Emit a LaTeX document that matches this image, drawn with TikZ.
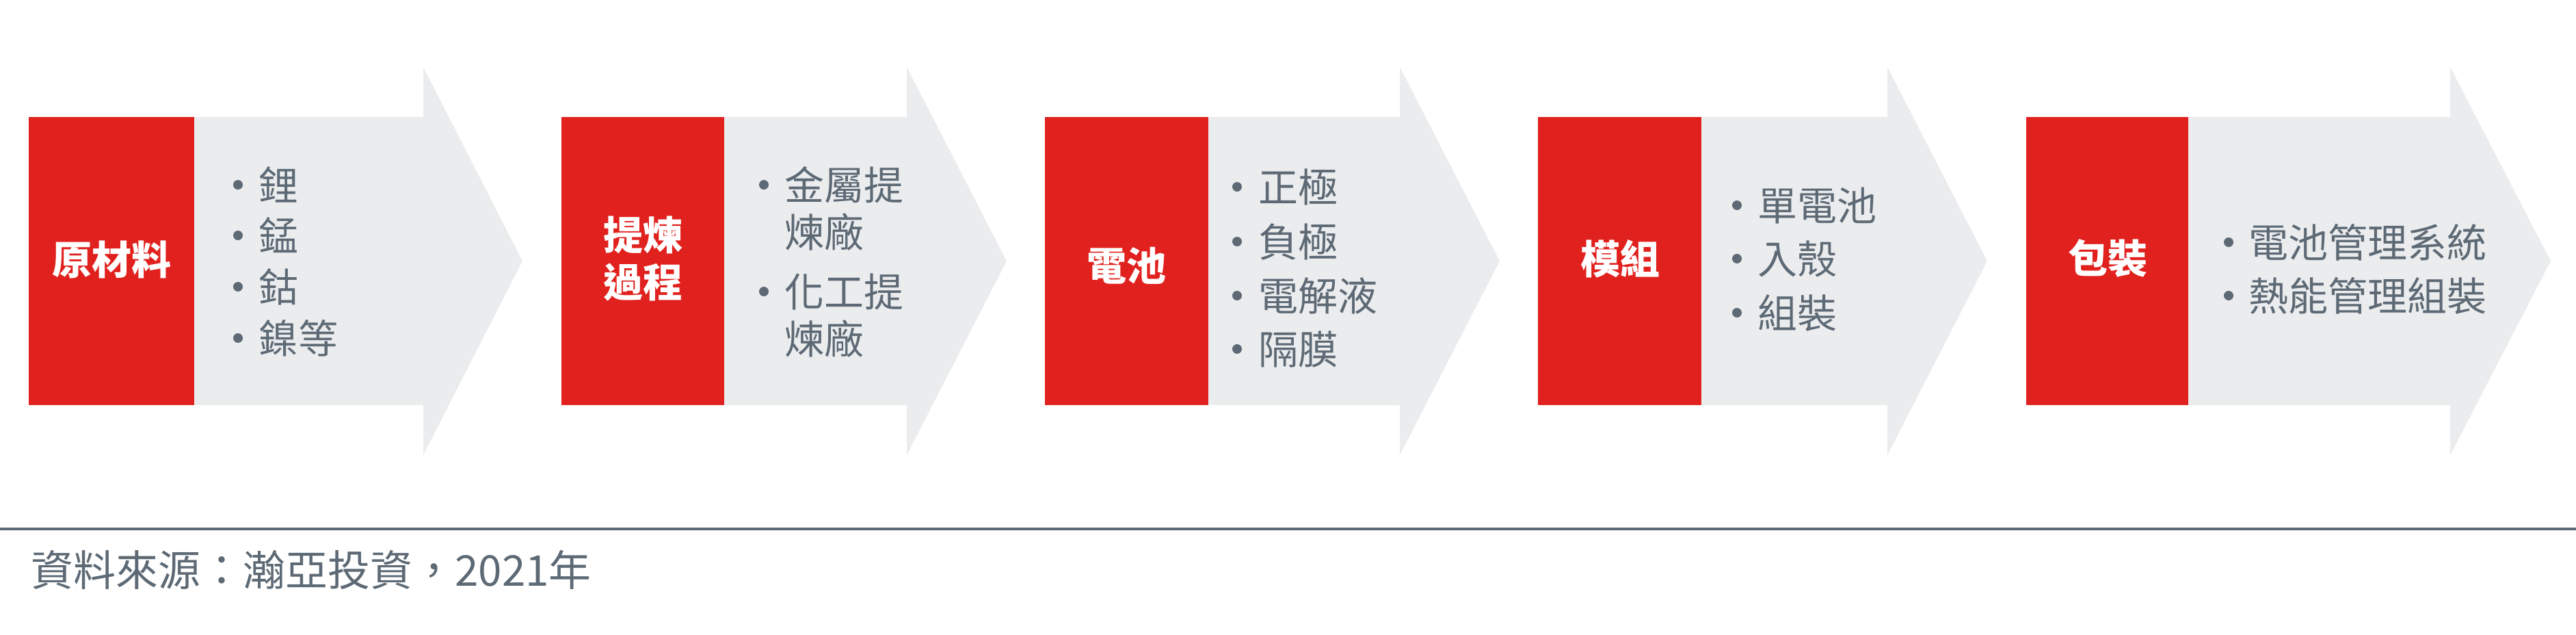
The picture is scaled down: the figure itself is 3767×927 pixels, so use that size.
\documentclass[tikz,border=0pt]{standalone}
\usepackage{fontspec}
\setmainfont{Noto Sans CJK TC}
\definecolor{brandred}{HTML}{E1211D}
\definecolor{arrowgray}{HTML}{EBECEE}
\definecolor{slate}{HTML}{5D6A75}
\begin{document}
\begin{tikzpicture}[x=1pt,y=-1pt,
  redbox/.style={fill=brandred, draw=none, inner sep=0pt, minimum height=421pt, anchor=north west},
  grayarrow/.style={fill=arrowgray, draw=none},
  redlabel/.style={inner sep=0pt, text=white, font=\fontsize{58pt}{70pt}\selectfont\bfseries, align=center},
  itemtext/.style={anchor=west, inner sep=0pt, text=slate, font=\fontsize{58pt}{58pt}\selectfont, text height=48pt, text depth=4pt},
  bulletdot/.style={circle, fill=slate, draw=none, inner sep=0pt, minimum size=14pt},
  sourcetext/.style={anchor=west, inner sep=0pt, text=slate, font=\fontsize{62pt}{62pt}\selectfont, text height=51pt, text depth=4pt},
  rule/.style={draw=slate, line width=4pt}]
\useasboundingbox (0,0) rectangle (3767,927);

% ---------- Stage 1
\fill[grayarrow] (42,171) -- (619,171) -- (619,98) -- (764,381.5) -- (619,665) -- (619,592) -- (42,592) -- cycle;
\node[redbox, minimum width=242pt] (r1) at (42,171) {};
\node[redlabel] (l1) at (163,379) {原材料};
\node[bulletdot] (b1a) at (348,270) {};
\node[itemtext] (t1a) at (378,270) {鋰};
\node[bulletdot] (b1b) at (348,344) {};
\node[itemtext] (t1b) at (378,344) {錳};
\node[bulletdot] (b1c) at (348,419) {};
\node[itemtext] (t1c) at (378,419) {鈷};
\node[bulletdot] (b1d) at (348,494) {};
\node[itemtext] (t1d) at (378,494) {鎳等};

% ---------- Stage 2
\fill[grayarrow] (821,171) -- (1326,171) -- (1326,98) -- (1472,381.5) -- (1326,665) -- (1326,592) -- (821,592) -- cycle;
\node[redbox, minimum width=238pt] (r2) at (821,171) {};
\node[redlabel] (l2a) at (940,343) {提煉};
\node[redlabel] (l2b) at (940,413) {過程};
\node[bulletdot] (b2a) at (1117,270) {};
\node[itemtext] (t2a) at (1147,270) {金屬提};
\node[itemtext] (t2b) at (1147,339) {煉廠};
\node[bulletdot] (b2c) at (1117,426) {};
\node[itemtext] (t2c) at (1147,426) {化工提};
\node[itemtext] (t2d) at (1147,495) {煉廠};

% ---------- Stage 3
\fill[grayarrow] (1528,171) -- (2047,171) -- (2047,98) -- (2193,381.5) -- (2047,665) -- (2047,592) -- (1528,592) -- cycle;
\node[redbox, minimum width=239pt] (r3) at (1528,171) {};
\node[redlabel] (l3) at (1647,388) {電池};
\node[bulletdot] (b3a) at (1809,273) {};
\node[itemtext] (t3a) at (1840,273) {正極};
\node[bulletdot] (b3b) at (1809,353) {};
\node[itemtext] (t3b) at (1840,353) {負極};
\node[bulletdot] (b3c) at (1809,432) {};
\node[itemtext] (t3c) at (1840,432) {電解液};
\node[bulletdot] (b3d) at (1809,510) {};
\node[itemtext] (t3d) at (1840,510) {隔膜};

% ---------- Stage 4
\fill[grayarrow] (2249,171) -- (2760,171) -- (2760,98) -- (2906,381.5) -- (2760,665) -- (2760,592) -- (2249,592) -- cycle;
\node[redbox, minimum width=239pt] (r4) at (2249,171) {};
\node[redlabel] (l4) at (2369,378) {模組};
\node[bulletdot] (b4a) at (2540,300) {};
\node[itemtext] (t4a) at (2570,300) {單電池};
\node[bulletdot] (b4b) at (2540,378) {};
\node[itemtext] (t4b) at (2570,378) {入殼};
\node[bulletdot] (b4c) at (2540,457) {};
\node[itemtext] (t4c) at (2570,457) {組裝};

% ---------- Stage 5
\fill[grayarrow] (2963,171) -- (3583,171) -- (3583,98) -- (3730,381.5) -- (3583,665) -- (3583,592) -- (2963,592) -- cycle;
\node[redbox, minimum width=237pt] (r5) at (2963,171) {};
\node[redlabel] (l5) at (3082,378) {包裝};
\node[bulletdot] (b5a) at (3259,354) {};
\node[itemtext] (t5a) at (3288,354) {電池管理系統};
\node[bulletdot] (b5b) at (3259,432) {};
\node[itemtext] (t5b) at (3288,432) {熱能管理組裝};

% ---------- Footer
\coordinate (ruleL) at (0,773);
\coordinate (ruleR) at (3767,773);
\draw[rule] (ruleL) -- (ruleR);
\node[sourcetext] (src) at (45,833) {資料來源：瀚亞投資，2021年};
\end{tikzpicture}
\end{document}
